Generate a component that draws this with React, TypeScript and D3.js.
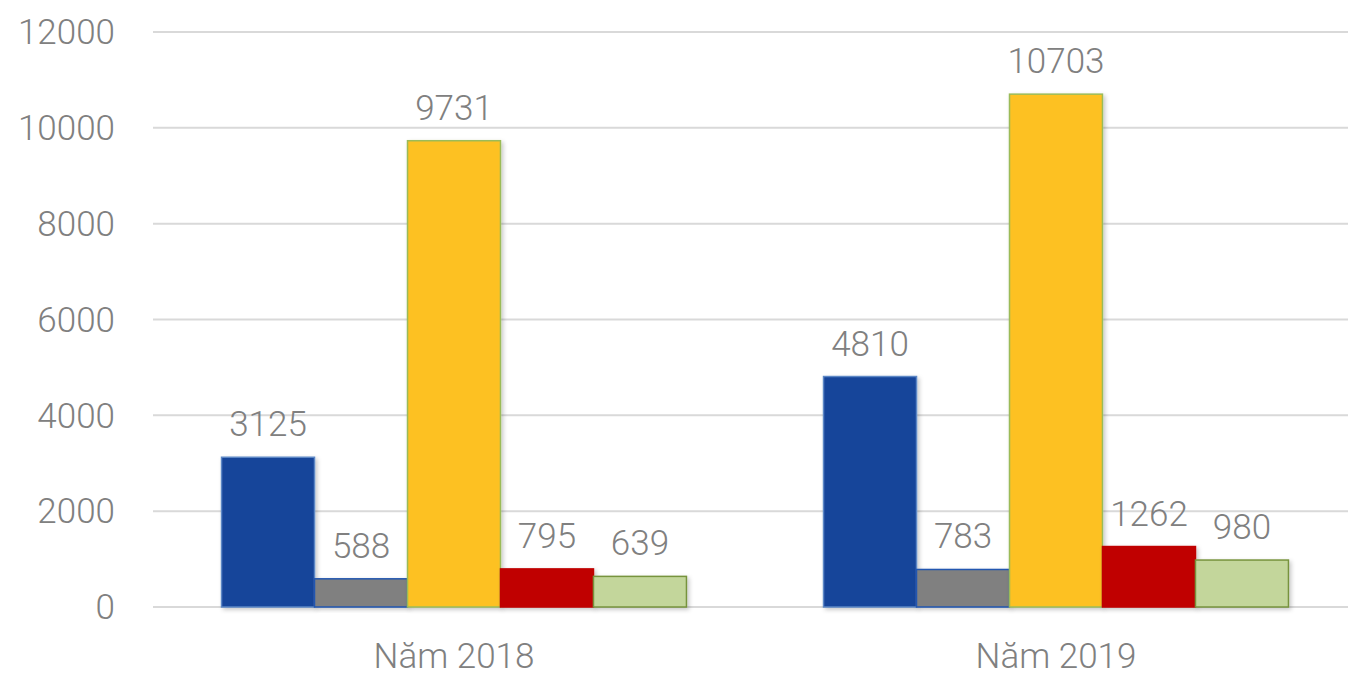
import * as React from 'react';
import { useRef, useEffect } from 'react';
import * as d3 from 'd3';

const years = ['Năm 2018', 'Năm 2019'];
const series = ['s1', 's2', 's3', 's4', 's5'];
const values2018 = [3125, 588, 9731, 795, 639];
const values2019 = [4810, 783, 10703, 1262, 980];
const yTicks = [0, 2000, 4000, 6000, 8000, 10000, 12000];

const fills = ['#17449a', '#808080', '#fdc122', '#c00000', '#c3d69b'];
const strokes = ['#5b87c5', '#2257b0', '#9bbb59', '#c00000', '#77933c'];

const App = () => {
  const svgRef = useRef<SVGSVGElement>(null);

  useEffect(() => {
    const width = 1348;
    const height = 679;
    const svg = d3.select(svgRef.current).attr('width', width).attr('height', height);
    svg.selectAll('*').remove();

    const left = 153;
    const plotRight = 1357;
    const top = 32;
    const bottom = 607;
    const font = 'Roboto, "Liberation Sans", Arial, sans-serif';
    const textColor = '#808080';

    const defs = svg.append('defs');
    const shadow = defs.append('filter').attr('id', 'bar-shadow')
      .attr('x', '-10%').attr('y', '-10%').attr('width', '130%').attr('height', '130%');
    shadow.append('feDropShadow')
      .attr('dx', 2).attr('dy', 2).attr('stdDeviation', 2)
      .attr('flood-color', '#000').attr('flood-opacity', 0.22);

    const y = d3.scaleLinear().domain([0, 12000]).range([bottom, top]);
    const x0 = d3.scaleBand().domain(years).range([left, plotRight]).padding(0);
    const x1 = d3.scaleBand().domain(series).range([0, x0.bandwidth()])
      .paddingInner(0).paddingOuter(0.737);

    // gridlines
    svg.append('g')
      .selectAll('line')
      .data(yTicks)
      .join('line')
      .attr('x1', left)
      .attr('x2', width)
      .attr('y1', d => y(d))
      .attr('y2', d => y(d))
      .attr('stroke', '#d9d9d9')
      .attr('stroke-width', 2);

    // y tick labels
    svg.append('g')
      .selectAll('text')
      .data(yTicks)
      .join('text')
      .attr('x', 115)
      .attr('y', d => y(d))
      .attr('dy', '0.35em')
      .attr('text-anchor', 'end')
      .attr('font-family', font)
      .attr('font-weight', 300)
      .attr('font-size', 35)
      .attr('fill', textColor)
      .text(d => d);

    const data = [values2018, values2019];

    const groups = svg.append('g')
      .selectAll('g')
      .data(years)
      .join('g')
      .attr('transform', d => `translate(${x0(d)},0)`);

    groups.selectAll('rect')
      .data((d, i) => data[i].map((v, j) => ({ key: series[j], value: v, idx: j })))
      .join('rect')
      .attr('x', d => x1(d.key)!)
      .attr('y', d => y(d.value))
      .attr('width', x1.bandwidth())
      .attr('height', d => bottom - y(d.value))
      .attr('fill', d => fills[d.idx])
      .attr('stroke', d => strokes[d.idx])
      .attr('stroke-width', 1.5)
      .attr('filter', 'url(#bar-shadow)');

    groups.selectAll('text.val')
      .data((d, i) => data[i].map((v, j) => ({ key: series[j], value: v })))
      .join('text')
      .attr('class', 'val')
      .attr('x', d => x1(d.key)! + x1.bandwidth() / 2)
      .attr('y', d => y(d.value) - 21)
      .attr('text-anchor', 'middle')
      .attr('font-family', font)
      .attr('font-weight', 300)
      .attr('font-size', 35)
      .attr('fill', textColor)
      .text(d => d.value);

    // x labels
    svg.append('g')
      .selectAll('text')
      .data(years)
      .join('text')
      .attr('x', d => x0(d)! + x0.bandwidth() / 2)
      .attr('y', 668)
      .attr('text-anchor', 'middle')
      .attr('font-family', font)
      .attr('font-weight', 300)
      .attr('font-size', 35)
      .attr('fill', textColor)
      .text(d => d);
  }, []);

  return (
    <svg ref={svgRef} style={{ position: 'absolute', left: 0, top: 0, background: '#fff' }}></svg>
  );
};

export default App;
